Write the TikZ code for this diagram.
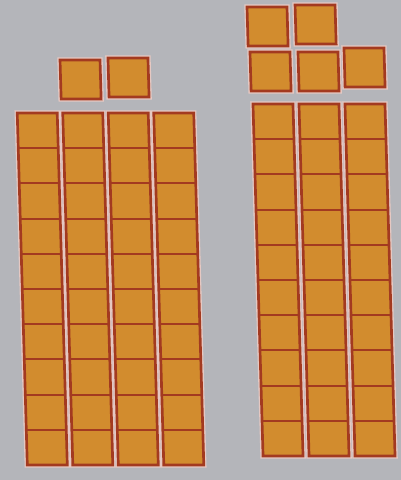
\documentclass[tikz,border=0pt]{standalone}
\usetikzlibrary{calc}
\definecolor{bgGrey}{HTML}{B4B5BA}
\definecolor{blockFill}{HTML}{D28C2E}
\definecolor{blockEdge}{HTML}{A33A20}
\definecolor{blockHalo}{HTML}{E6C8C2}
\begin{document}
\begin{tikzpicture}[
  x=0.025cm, y=-0.025cm,
  halo/.style={draw=blockHalo, line width=3.8pt},
  cell/.style={draw=blockEdge, line width=1.9pt, fill=blockFill},
  divider/.style={draw=blockEdge, line width=1.5pt}
]

% --- Background and frame ---
\fill[bgGrey] (0,0) rectangle (401,480);
\useasboundingbox (0,0) rectangle (401,480);

\begin{scope}[xslant=-0.0286]
% --- Tens: rods of ten cells (left 4, right 3) ---
\foreach \rx/\ry in {14/113, 59.5/113, 105/113, 150.5/113,
                     250/104, 296/104, 342/104} {
  \draw[halo] (\rx,\ry) rectangle ++(40,352);
  \draw[cell] (\rx,\ry) rectangle ++(40,352);
  \foreach \k in {1,...,9}
    \draw[divider] (\rx,\ry+35.2*\k) -- ++(40,0);
}

% --- Ones: single unit squares ---
\foreach \ux/\uy in {58.3/60, 106.3/58,
                     246.8/7, 294.9/5,
                     248.5/52, 296.5/52, 342.6/48} {
  \draw[halo] (\ux,\uy) rectangle ++(40,39);
  \draw[cell] (\ux,\uy) rectangle ++(40,39);
}
\end{scope}

\end{tikzpicture}
\end{document}
